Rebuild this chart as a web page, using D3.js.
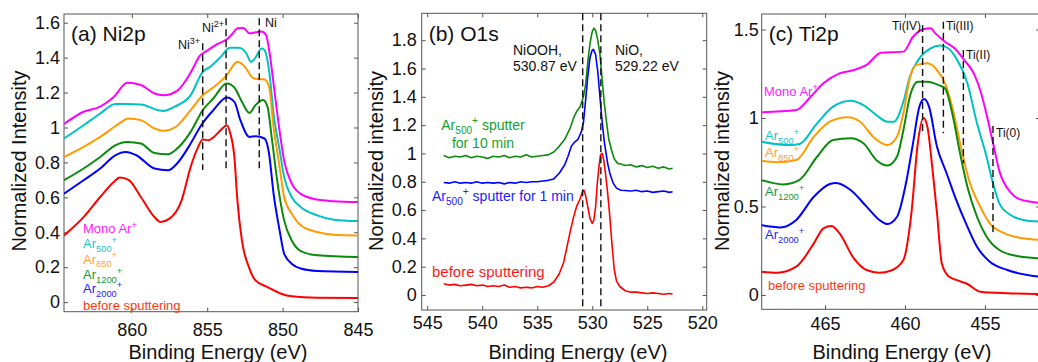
<!DOCTYPE html>
<html>
<head>
<meta charset="utf-8">
<script src="https://cdn.jsdelivr.net/npm/d3@7"></script>
<style>
  body { margin: 0; background: #fff; }
  svg { display: block; font-family: "Liberation Sans", Arial, sans-serif; }
</style>
</head>
<body>
<div id="chart"></div>
<script>
// ---- DATA (binding energy eV, normalized intensity) ----

// (a) Ni2p
const niMono = [[864.5,1.02],[863.2,1.09],[862.1,1.12],[861.2,1.175],[860.3,1.256],[859.4,1.243],[858.5,1.195],[857.9,1.185],[857.0,1.21],[856.5,1.26],[856.0,1.33],[855.5,1.41],[855.0,1.44],[854.4,1.475],[853.7,1.505],[853.3,1.54],[853.0,1.568],[852.6,1.57],[852.2,1.54],[851.8,1.545],[851.4,1.55],[851.1,1.53],[850.85,1.42],[850.6,1.25],[850.2,0.98],[849.9,0.81],[849.4,0.68],[848.8,0.62],[847.7,0.587],[846.6,0.578],[845.0,0.573]];
const ni500 = [[864.5,0.937],[863.2,1.013],[862.1,1.08],[861.1,1.134],[860.3,1.134],[859.4,1.132],[858.3,1.10],[857.9,1.094],[857.2,1.118],[856.1,1.185],[855.3,1.319],[854.8,1.348],[854.1,1.405],[853.5,1.456],[852.9,1.456],[852.4,1.424],[852.1,1.376],[851.8,1.40],[851.4,1.453],[851.2,1.443],[850.9,1.328],[850.6,1.08],[850.2,0.87],[849.9,0.717],[849.4,0.602],[848.8,0.545],[847.7,0.497],[846.6,0.472],[845.0,0.464]];
const ni850 = [[864.5,0.831],[863.2,0.889],[862.1,0.946],[861.1,1.007],[860.2,1.052],[859.4,1.042],[858.5,0.994],[857.9,0.981],[857.1,1.003],[856.1,1.099],[855.3,1.185],[854.6,1.229],[853.7,1.30],[853.0,1.376],[852.6,1.357],[851.9,1.281],[851.2,1.275],[850.9,1.233],[850.6,1.003],[850.2,0.774],[849.9,0.602],[849.4,0.507],[848.8,0.44],[847.7,0.401],[846.6,0.386],[845.0,0.382]];
const ni1200 = [[864.5,0.698],[863.2,0.765],[862.1,0.831],[861.1,0.898],[860.3,0.917],[859.4,0.908],[858.5,0.854],[857.6,0.847],[857.0,0.879],[856.1,0.975],[855.3,1.099],[854.6,1.166],[853.7,1.252],[853.2,1.229],[852.7,1.147],[852.2,1.084],[851.8,1.128],[851.3,1.157],[851.0,1.118],[850.7,0.927],[850.3,0.66],[849.9,0.468],[849.4,0.354],[848.8,0.292],[847.7,0.268],[845.0,0.258]];
const ni2000 = [[864.5,0.621],[863.2,0.698],[862.1,0.765],[861.1,0.841],[860.4,0.86],[859.7,0.841],[858.5,0.765],[857.6,0.755],[857.0,0.794],[856.1,0.908],[855.4,1.013],[854.6,1.099],[853.7,1.172],[853.2,1.147],[852.8,1.042],[852.2,0.946],[851.8,0.95],[851.2,0.937],[850.9,0.851],[850.6,0.621],[850.2,0.411],[849.9,0.278],[849.4,0.22],[848.8,0.192],[847.7,0.178],[845.0,0.172]];
const niBefore = [[864.5,0.382],[863.2,0.487],[862.1,0.602],[861.2,0.688],[860.8,0.713],[860.2,0.698],[859.4,0.602],[858.5,0.487],[858.1,0.459],[857.5,0.478],[856.7,0.583],[856.1,0.774],[855.6,0.889],[855.3,0.931],[854.9,0.927],[854.6,0.943],[854.1,0.985],[853.7,1.013],[853.5,0.975],[853.2,0.831],[853.0,0.583],[852.7,0.354],[852.2,0.192],[851.8,0.124],[851.0,0.086],[850.1,0.048],[849.4,0.033],[847.7,0.025],[845.0,0.023]];
const niTicksX = [860, 855, 850, 845];
const niTicksY = [0, 0.2, 0.4, 0.6, 0.8, 1, 1.2, 1.4, 1.6];
const niMarks = [
  {E: 855.3, top: 1.482, bottom: 0.757, label: "Ni", sup: "3+"},
  {E: 853.75, top: 1.625, bottom: 0.757, label: "Ni", sup: "2+"},
  {E: 851.55, top: 1.625, bottom: 0.757, label: "Ni", sup: ""}
];

// (b) O1s
const oAr10 = [[543.5,0.985],[543.0,0.97],[542.5,0.98],[542.0,0.975],[541.5,0.985],[541.0,0.97],[540.5,0.98],[540.0,0.975],[539.5,0.965],[539.0,0.98],[538.5,0.975],[538.0,0.985],[537.5,0.97],[537.0,0.98],[536.5,0.975],[536.0,0.99],[535.5,0.975],[535.0,0.98],[534.5,0.985],[534.0,0.99],[533.5,1.01],[533.0,1.05],[532.5,1.10],[532.0,1.18],[531.7,1.25],[531.4,1.30],[531.1,1.33],[530.8,1.40],[530.6,1.49],[530.4,1.65],[530.2,1.78],[530.0,1.86],[529.85,1.885],[529.7,1.87],[529.5,1.80],[529.3,1.70],[529.1,1.52],[528.9,1.35],[528.7,1.22],[528.5,1.10],[528.2,1.01],[528.0,0.96],[527.7,0.93],[527.4,0.925],[527.0,0.915],[526.5,0.92],[526.0,0.905],[525.5,0.915],[525.0,0.90],[524.5,0.91],[524.0,0.895],[523.5,0.905],[523.0,0.89],[522.7,0.895]];
const oAr1 = [[543.5,0.795],[543.0,0.79],[542.5,0.80],[542.0,0.79],[541.5,0.795],[541.0,0.79],[540.5,0.80],[540.0,0.79],[539.5,0.795],[539.0,0.79],[538.5,0.795],[538.0,0.785],[537.5,0.795],[537.0,0.79],[536.5,0.80],[536.0,0.795],[535.5,0.80],[535.0,0.80],[534.5,0.805],[534.0,0.81],[533.5,0.82],[533.0,0.86],[532.5,0.92],[532.2,0.98],[531.9,1.05],[531.6,1.08],[531.3,1.10],[531.0,1.15],[530.8,1.22],[530.6,1.38],[530.4,1.55],[530.2,1.68],[530.0,1.73],[529.9,1.735],[529.7,1.70],[529.5,1.58],[529.3,1.40],[529.1,1.22],[528.9,1.08],[528.6,0.93],[528.4,0.86],[528.1,0.79],[527.8,0.755],[527.4,0.74],[527.0,0.738],[526.5,0.735],[526.0,0.74],[525.5,0.73],[525.0,0.735],[524.5,0.725],[524.0,0.73],[523.5,0.735],[523.0,0.725],[522.7,0.73]];
const oBefore = [[543.5,0.08],[543.0,0.07],[542.5,0.075],[542.0,0.065],[541.5,0.07],[541.0,0.075],[540.5,0.065],[540.0,0.07],[539.5,0.06],[539.0,0.065],[538.5,0.06],[538.0,0.07],[537.5,0.055],[537.0,0.06],[536.5,0.05],[536.0,0.055],[535.5,0.05],[535.0,0.06],[534.5,0.055],[534.0,0.065],[533.5,0.09],[533.0,0.15],[532.6,0.23],[532.3,0.34],[532.0,0.45],[531.7,0.55],[531.4,0.63],[531.1,0.68],[530.9,0.73],[530.75,0.74],[530.6,0.70],[530.4,0.62],[530.2,0.54],[530.0,0.505],[529.85,0.53],[529.7,0.62],[529.55,0.78],[529.4,0.90],[529.25,0.99],[529.1,1.0],[528.95,0.95],[528.8,0.86],[528.6,0.72],[528.4,0.55],[528.2,0.35],[528.0,0.18],[527.8,0.10],[527.5,0.06],[527.0,0.03],[526.5,0.02],[526.0,0.02],[525.5,0.015],[525.0,0.01],[524.5,0.015],[524.0,0.01],[523.5,0.005],[523.0,0.01],[522.7,0.005]];
const oTicksX = [545, 540, 535, 530, 525, 520];
const oTicksY = [0, 0.2, 0.4, 0.6, 0.8, 1, 1.2, 1.4, 1.6, 1.8];
const oMarks = [
  {E: 530.87, lines: ["NiOOH,", "530.87 eV"]},
  {E: 529.22, lines: ["NiO,", "529.22 eV"]}
];

// (c) Ti2p
const tiMono = [[469.0,1.032],[466.8,1.045],[465.9,1.12],[465.1,1.196],[464.1,1.252],[463.2,1.271],[462.4,1.30],[461.5,1.369],[460.1,1.375],[459.5,1.459],[458.9,1.50],[458.4,1.507],[458.1,1.478],[457.5,1.431],[456.9,1.394],[456.3,1.328],[455.7,1.252],[455.3,1.158],[454.9,1.02],[454.5,0.86],[454.1,0.70],[453.4,0.58],[452.8,0.54],[451.5,0.52]];
const ti500 = [[469.0,0.866],[467.2,0.847],[466.6,0.853],[465.5,0.97],[464.5,1.064],[463.4,1.098],[462.6,1.073],[461.8,1.017],[461.1,0.979],[460.7,0.979],[460.1,1.092],[459.7,1.233],[459.1,1.337],[458.4,1.394],[457.8,1.409],[457.3,1.394],[456.8,1.337],[456.1,1.196],[455.5,0.97],[454.9,0.781],[454.5,0.631],[454.1,0.518],[453.4,0.452],[452.6,0.424],[451.5,0.414]];
const ti850 = [[469.0,0.759],[468.0,0.75],[466.8,0.763],[465.7,0.894],[464.7,0.979],[463.6,1.004],[462.8,0.979],[462.0,0.894],[461.1,0.847],[460.5,0.894],[460.1,1.027],[459.7,1.224],[459.3,1.299],[458.6,1.309],[458.0,1.271],[457.5,1.196],[457.0,1.045],[456.6,0.876],[456.0,0.65],[455.3,0.499],[454.7,0.405],[453.8,0.349],[452.6,0.32],[451.5,0.311]];
const ti1200 = [[469.0,0.65],[467.6,0.625],[466.6,0.65],[465.5,0.781],[464.5,0.876],[463.4,0.885],[462.6,0.857],[461.8,0.763],[461.1,0.731],[460.5,0.781],[460.1,0.932],[459.7,1.12],[459.2,1.205],[458.6,1.205],[457.9,1.186],[457.5,1.168],[457.0,1.007],[456.6,0.819],[456.1,0.612],[455.5,0.442],[454.9,0.329],[454.1,0.254],[453.0,0.22],[451.5,0.207]];
const ti2000 = [[469.0,0.395],[467.8,0.382],[466.8,0.424],[465.7,0.555],[464.7,0.627],[464.3,0.633],[463.4,0.593],[462.4,0.499],[461.6,0.424],[461.1,0.401],[460.5,0.442],[459.9,0.65],[459.5,0.857],[459.1,1.064],[458.8,1.107],[458.5,1.064],[458.0,0.838],[457.4,0.688],[456.8,0.537],[456.1,0.386],[455.5,0.273],[454.7,0.188],[453.6,0.141],[451.5,0.103]];
const tiBefore = [[469.0,0.132],[468.0,0.126],[466.8,0.16],[465.7,0.292],[465.1,0.377],[464.6,0.39],[464.1,0.349],[463.2,0.207],[462.4,0.141],[461.6,0.126],[460.9,0.137],[460.1,0.198],[459.6,0.462],[459.2,0.857],[458.85,1.0],[458.6,0.951],[458.3,0.725],[458.0,0.462],[457.7,0.179],[457.3,0.107],[456.8,0.085],[456.1,0.062],[455.3,0.019],[453.6,0.01],[451.5,0.006]];
const tiTicksX = [465, 460, 455];
const tiTicksY = [0, 0.5, 1, 1.5];
const tiMarks = [
  {E: 458.9, top: 1.525, bottom: 0.914, label: "Ti(IV)"},
  {E: 457.6, top: 1.544, bottom: 0.914, label: "Ti(III)"},
  {E: 456.35, top: 1.384, bottom: 0.744, label: "Ti(II)"},
  {E: 454.5, top: 0.955, bottom: 0.333, label: "Ti(0)"}
];

// ---- COLOURS ----
const col = {
  mono: "#ff00ff", a500: "#00c2c2", a850: "#ff9a00",
  a1200: "#0c8a0c", a2000: "#0000ff", before: "#ff0000"
};

const svg = d3.select("#chart").append("svg")
  .attr("width", 1038).attr("height", 362);

// text with sub / superscripts: parts = ["Ar", {sub:"500"}, {sup:"+"}, " sputter"]
function richText(g, x, y, parts, color, size, anchor) {
  let t = g.append("text")
    .attr("x", x).attr("y", y)
    .attr("fill", color)
    .attr("text-anchor", anchor || "start")
    .style("font-size", size + "px");
  let off = 0;
  parts.forEach(function(p) {
    let target, txt, fs;
    if (typeof p === "string") { target = 0; txt = p; fs = size; }
    else if (p.sub !== undefined) { target = 0.28 * size; txt = p.sub; fs = size * 0.72; }
    else { target = -0.4 * size; txt = p.sup; fs = size * 0.72; }
    t.append("tspan").attr("dy", target - off).style("font-size", fs + "px").text(txt);
    off = target;
  });
  return t;
}

// one MATLAB-style panel
function panel(cfg) {
  let g = svg.append("g");
  let x = d3.scaleLinear().domain(cfg.xdom).range([cfg.left, cfg.right]);
  let y = d3.scaleLinear().domain(cfg.ydom).range([cfg.bottom, cfg.top]);
  let w = cfg.right - cfg.left, h = cfg.bottom - cfg.top;

  g.append("clipPath").attr("id", "clip" + cfg.id)
    .append("rect").attr("x", cfg.left).attr("y", cfg.top).attr("width", w).attr("height", h);

  // ticks, inward on all four sides
  let fmt = d3.format("~g");
  g.append("g").attr("transform", "translate(0," + cfg.bottom + ")")
    .call(d3.axisBottom(x).tickValues(cfg.xticks).tickSize(-4).tickPadding(cfg.xpad).tickFormat(fmt));
  g.append("g").attr("transform", "translate(0," + cfg.top + ")")
    .call(d3.axisTop(x).tickValues(cfg.xticks).tickSize(-4).tickFormat(""));
  g.append("g").attr("transform", "translate(" + cfg.left + ",0)")
    .call(d3.axisLeft(y).tickValues(cfg.yticks).tickSize(-4).tickPadding(cfg.ypad).tickFormat(fmt));
  g.append("g").attr("transform", "translate(" + cfg.right + ",0)")
    .call(d3.axisRight(y).tickValues(cfg.yticks).tickSize(-4).tickFormat(""));
  g.selectAll(".domain").remove();
  g.selectAll(".tick line").attr("stroke", "#555");
  g.selectAll(".tick text").style("font-size", "18px").attr("fill", "#111")
    .style("font-family", "'Liberation Sans', Arial, sans-serif");

  // box
  g.append("rect").attr("x", cfg.left).attr("y", cfg.top).attr("width", w).attr("height", h)
    .attr("fill", "none").attr("stroke", "#555").attr("stroke-width", 1);

  // spectra
  let line = d3.line().x(d => x(d[0])).y(d => y(d[1])).curve(cfg.curve);
  let lines = g.append("g").attr("clip-path", "url(#clip" + cfg.id + ")");
  cfg.series.forEach(function(s) {
    lines.append("path").datum(s.data)
      .attr("d", line).attr("fill", "none")
      .attr("stroke", s.color).attr("stroke-width", cfg.lw)
      .attr("stroke-linejoin", "round");
  });

  // axis titles (bottom one is cut by the image edge, like the original)
  g.append("text").attr("x", cfg.xlabX).attr("y", 359)
    .attr("text-anchor", "middle").style("font-size", "20px").attr("fill", "#111")
    .text("Binding Energy (eV)");
  g.append("text")
    .attr("transform", "translate(" + cfg.ylabX + ",161) rotate(-90)")
    .attr("text-anchor", "middle").style("font-size", "20px").attr("fill", "#111")
    .text(cfg.ylabel);

  // panel title
  g.append("text").attr("x", cfg.left + 7).attr("y", 41)
    .style("font-size", "21px").attr("fill", "#111").text(cfg.title);

  return {g: g, x: x, y: y};
}

function dashed(g, x1, y1, y2) {
  g.append("line").attr("x1", x1).attr("x2", x1).attr("y1", y1).attr("y2", y2)
    .attr("stroke", "#111").attr("stroke-width", 1.4).attr("stroke-dasharray", "7,4");
}

// ---- (a) Ni2p ----
let pa = panel({
  id: "a", left: 64, right: 358, top: 14, bottom: 311.7,
  xdom: [864.5, 845], ydom: [-0.055, 1.65],
  xticks: niTicksX, yticks: niTicksY, xpad: 12, ypad: 4,
  curve: d3.curveMonotoneX, lw: 2,
  xlabX: 218, ylabX: 26, ylabel: "Normalized Intensity", title: "(a) Ni2p",
  series: [
    {data: niMono, color: col.mono}, {data: ni500, color: col.a500},
    {data: ni850, color: col.a850}, {data: ni1200, color: col.a1200},
    {data: ni2000, color: col.a2000}, {data: niBefore, color: col.before}
  ]
});
niMarks.forEach(function(m, i) {
  let xx = pa.x(m.E);
  dashed(pa.g, xx, pa.y(m.top), pa.y(m.bottom));
  let lx = [178, 202, 265][i], ly = [49, 32, 27][i];
  let parts = m.sup ? [m.label, {sup: m.sup}] : [m.label];
  richText(pa.g, lx, ly, parts, "#111", 12.5);
});
const legA = [
  {parts: ["Mono Ar", {sup: "+"}], color: "#ff22ff", y: 233},
  {parts: ["Ar", {sub: "500"}, {sup: "+"}], color: "#1cc8c8", y: 248},
  {parts: ["Ar", {sub: "850"}, {sup: "+"}], color: "#ff9f40", y: 263.5},
  {parts: ["Ar", {sub: "1200"}, {sup: "+"}], color: "#0e9a3a", y: 279},
  {parts: ["Ar", {sub: "2000"}, {sup: "+"}], color: "#2222ff", y: 293},
  {parts: ["before sputtering"], color: "#ff3a10", y: 310}
];
legA.forEach(l => richText(pa.g, 83, l.y, l.parts, l.color, 13));

// ---- (b) O1s ----
let pb = panel({
  id: "b", left: 421.7, right: 706.7, top: 13.3, bottom: 310,
  xdom: [545.5, 519.6], ydom: [-0.106, 1.99],
  xticks: oTicksX, yticks: oTicksY, xpad: 6, ypad: 5,
  curve: d3.curveLinear, lw: 1.6,
  xlabX: 578, ylabX: 383, ylabel: "Normalized intensity", title: "(b) O1s",
  series: [
    {data: oAr10, color: col.a1200}, {data: oAr1, color: col.a2000},
    {data: oBefore, color: col.before}
  ]
});
oMarks.forEach(function(m, i) {
  dashed(pb.g, pb.x(m.E), 13.3, 310);
  let lx = [513, 615][i];
  m.lines.forEach((t, k) => richText(pb.g, lx, 55 + k * 15.5, [t], "#111", 14));
});
richText(pb.g, 483, 130, ["Ar", {sub: "500"}, {sup: "+"}, " sputter"], "#13a22e", 14, "middle");
richText(pb.g, 483, 148, ["for 10 min"], "#13a22e", 14, "middle");
richText(pb.g, 432, 201, ["Ar", {sub: "500"}, {sup: "+"}, " sputter for 1 min"], "#2222ff", 14);
richText(pb.g, 432, 277, ["before sputtering"], "#ff1a1a", 15);

// ---- (c) Ti2p ----
let pc = panel({
  id: "c", left: 761.7, right: 1040, top: 14, bottom: 309.3,
  xdom: [468.96, 451.56], ydom: [-0.0808, 1.5876],
  xticks: tiTicksX, yticks: tiTicksY, xpad: 8, ypad: 3,
  curve: d3.curveMonotoneX, lw: 2,
  xlabX: 902, ylabX: 729, ylabel: "Normalized intensity", title: "(c) Ti2p",
  series: [
    {data: tiMono, color: col.mono}, {data: ti500, color: col.a500},
    {data: ti850, color: col.a850}, {data: ti1200, color: col.a1200},
    {data: ti2000, color: col.a2000}, {data: tiBefore, color: col.before}
  ]
});
tiMarks.forEach(function(m, i) {
  let xx = pc.x(m.E);
  dashed(pc.g, xx, pc.y(m.top), pc.y(m.bottom));
  let pos = [[921, 30, "end"], [946, 30, "start"], [966, 59, "start"], [996, 137, "start"]][i];
  richText(pc.g, pos[0], pos[1], [m.label], "#111", 12, pos[2]);
});
const legC = [
  {parts: ["Mono Ar", {sup: "+"}], color: "#ff22ff", y: 95.5, x: 764},
  {parts: ["Ar", {sub: "500"}, {sup: "+"}], color: "#1cc8c8", y: 140, x: 765},
  {parts: ["Ar", {sub: "850"}, {sup: "+"}], color: "#ff9f40", y: 157, x: 765},
  {parts: ["Ar", {sub: "1200"}, {sup: "+"}], color: "#0e9a3a", y: 196, x: 765},
  {parts: ["Ar", {sub: "2000"}, {sup: "+"}], color: "#2222ff", y: 239, x: 765},
  {parts: ["before sputtering"], color: "#ff3a10", y: 290, x: 768}
];
legC.forEach(l => richText(pc.g, l.x, l.y, l.parts, l.color, 13));
</script>
</body>
</html>
